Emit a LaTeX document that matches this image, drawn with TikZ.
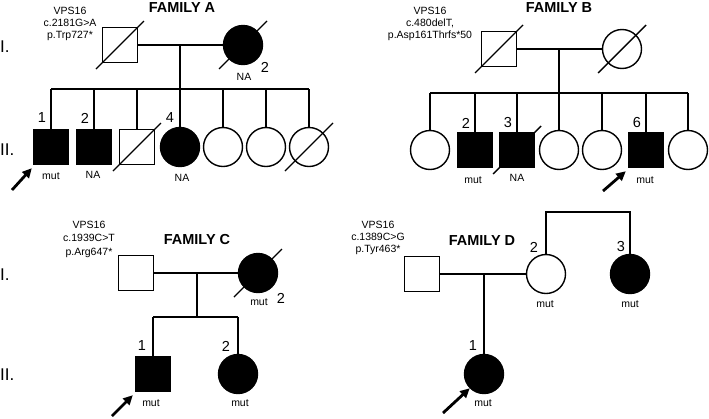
\documentclass[tikz,border=0pt]{standalone}
\usepackage{fontspec}
\setmainfont{Liberation Sans}
\usetikzlibrary{calc,arrows.meta}
\newcommand\pdead[1]{\draw[lw] ($(#1.center)+(-24,24)$) -- ($(#1.center)+(24,-24)$);}
\begin{document}
\begin{tikzpicture}[x=1pt,y=-1pt,
  lw/.style={line width=1.4pt},
  male/.style={draw,rectangle,minimum size=35pt,inner sep=0pt,line width=1.4pt,fill=white},
  female/.style={draw,circle,minimum size=39pt,inner sep=0pt,line width=1.4pt,fill=white},
  aff/.style={fill=black},
  num/.style={font=\fontsize{14.5}{14.5}\selectfont,inner sep=0pt},
  gen/.style={font=\fontsize{17}{17}\selectfont,inner sep=0pt,anchor=west},
  lab/.style={font=\fontsize{10.5}{10.5}\selectfont,inner sep=0pt},
  mutn/.style={font=\fontsize{10.5}{11.7}\selectfont,align=center,inner sep=0pt},
  fam/.style={font=\bfseries\fontsize{14.5}{14.5}\selectfont,inner sep=0pt},
  proband/.style={-{Triangle[length=9.5pt,width=9pt]},line width=2.8pt},
]
\useasboundingbox (0,0) rectangle (709,418);

% ---------------- generation labels
\node[gen] (gA1) at (0,47) {I.};
\node[gen] (gA2) at (0,150) {II.};
\node[gen] (gC1) at (0,275) {I.};
\node[gen] (gC2) at (0,375) {II.};

% ---------------- FAMILY A
\node[mutn] (tA) at (70,24) {VPS16\\c.2181G>A\\p.Trp727*};
\node[fam] (fA) at (182,8) {FAMILY A};
\node[male] (A11) at (120,45) {};
\node[female,aff] (A12) at (243,45) {};
\node[male,aff] (A21) at (51,147) {};
\node[male,aff] (A22) at (94,147) {};
\node[male] (A23) at (137,147) {};
\node[female,aff] (A24) at (180,147) {};
\node[female] (A25) at (223,147) {};
\node[female] (A26) at (266,147) {};
\node[female] (A27) at (309,147) {};
\coordinate (Am) at (180,45);
\coordinate (As) at (180,89);
\draw[lw] (A11.east) -- (A12.west);
\draw[lw] (Am) -- (As);
\draw[lw] (A21.north |- As) -- (A27.north |- As);
\foreach \n in {A21,A22,A23,A24,A25,A26,A27} \draw[lw] (\n.north) -- (\n.north |- As);
\pdead{A11}\pdead{A12}\pdead{A23}\pdead{A27}
\node[lab] (A12l) at (244,77) {NA};
\node[num] (A12n) at (265,67) {2};
\node[num] (A21n) at (42,118) {1};
\node[num] (A22n) at (85,118) {2};
\node[num] (A24n) at (170,118) {4};
\node[lab] (A21l) at (51,176) {mut};
\node[lab] (A22l) at (93,175) {NA};
\node[lab] (A24l) at (182,178) {NA};
\coordinate (Apa) at (12,190);
\draw[proband] (Apa) -- ($(A21.south west)+(-1,3)$);

% ---------------- FAMILY B
\node[mutn] (tB) at (430,24) {VPS16\\c.480delT,\\p.Asp161Thrfs*50};
\node[fam] (fB) at (559,8) {FAMILY B};
\node[male] (B11) at (499,49) {};
\node[female] (B12) at (622,49) {};
\node[female] (B21) at (430,150) {};
\node[male,aff] (B22) at (475,150) {};
\node[male,aff] (B23) at (517,150) {};
\node[female] (B24) at (559,150) {};
\node[female] (B25) at (602,150) {};
\node[male,aff] (B26) at (646,150) {};
\node[female] (B27) at (688,150) {};
\coordinate (Bm) at (559,49);
\coordinate (Bs) at (559,93);
\draw[lw] (B11.east) -- (B12.west);
\draw[lw] (Bm) -- (Bs);
\draw[lw] (B21.north |- Bs) -- (B27.north |- Bs);
\foreach \n in {B21,B22,B23,B24,B25,B26,B27} \draw[lw] (\n.north) -- (\n.north |- Bs);
\pdead{B11}\pdead{B12}\pdead{B23}
\node[num] (B22n) at (466,123) {2};
\node[num] (B23n) at (508,123) {3};
\node[num] (B26n) at (637,123) {6};
\node[lab] (B22l) at (473,180) {mut};
\node[lab] (B23l) at (517,178) {NA};
\node[lab] (B26l) at (645,180) {mut};
\coordinate (Bpa) at (603,191);
\draw[proband] (Bpa) -- ($(B26.south west)+(-2,3)$);

% ---------------- FAMILY C
\node[mutn,font=\fontsize{10.5}{13.5}\selectfont] (tC) at (89,239) {VPS16\\c.1939C>T\\p.Arg647*};
\node[fam] (fC) at (197,240) {FAMILY C};
\node[male] (C11) at (136,273) {};
\node[female,aff] (C12) at (258,273) {};
\node[male,aff] (C21) at (153,374) {};
\node[female,aff] (C22) at (238,374) {};
\coordinate (Cm) at (197,273);
\coordinate (Cs) at (197,317);
\draw[lw] (C11.east) -- (C12.west);
\draw[lw] (Cm) -- (Cs);
\draw[lw] (C21.north |- Cs) -- (C22.north |- Cs);
\foreach \n in {C21,C22} \draw[lw] (\n.north) -- (\n.north |- Cs);
\pdead{C12}
\node[lab] (C12l) at (259,302) {mut};
\node[num] (C12n) at (281,298) {2};
\node[num] (C21n) at (142,346) {1};
\node[num] (C22n) at (226,346) {2};
\node[lab] (C21l) at (151,403) {mut};
\node[lab] (C22l) at (240,403) {mut};
\coordinate (Cpa) at (112,416);
\draw[proband] (Cpa) -- ($(C21.south west)+(-2,3)$);

% ---------------- FAMILY D
\node[mutn] (tD) at (378,238) {VPS16\\c.1389C>G\\p.Tyr463*};
\node[fam] (fD) at (482,241) {FAMILY D};
\node[male] (D11) at (422,274) {};
\node[female] (D12) at (546,274) {};
\node[female,aff] (D13) at (630,274) {};
\node[female,aff] (D21) at (484,374) {};
\coordinate (Dm) at (484,274);
\coordinate (Dt) at (546,212);
\draw[lw] (D11.east) -- (D12.west);
\draw[lw] (Dm) -- (D21.north);
\draw[lw] (D12.north) -- (Dt) -- (D13.north |- Dt) -- (D13.north);
\node[lab] (D12l) at (545,304) {mut};
\node[lab] (D13l) at (630,304) {mut};
\node[num] (D12n) at (534,247) {2};
\node[num] (D13n) at (621,247) {3};
\node[num] (D21n) at (473,346) {1};
\node[lab] (D21l) at (483,403) {mut};
\coordinate (Dpa) at (443,413);
\draw[proband] (Dpa) -- (D21.225);
\end{tikzpicture}
\end{document}
